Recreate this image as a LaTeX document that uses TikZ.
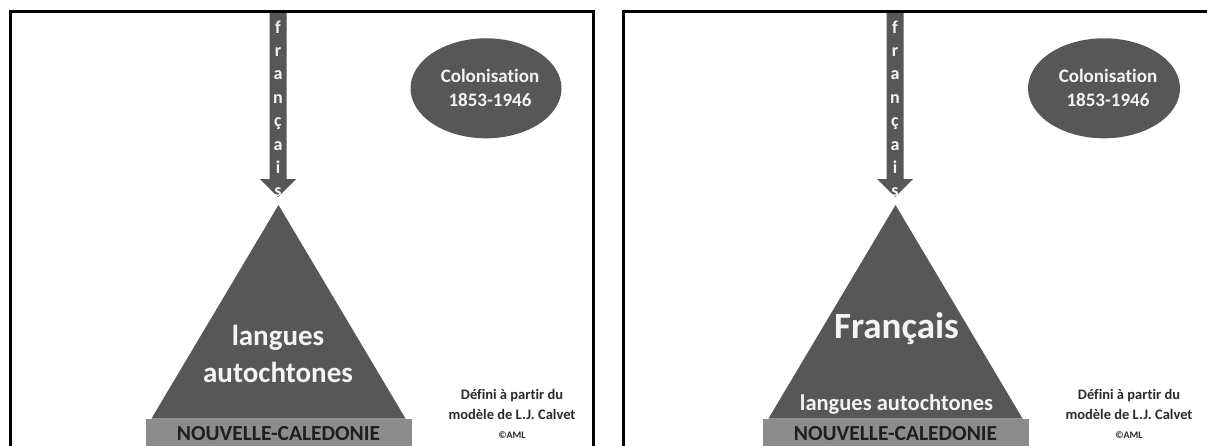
\documentclass[tikz,border=0pt]{standalone}
\usepackage{fontspec}
\setmainfont{Carlito}[Ligatures=NoCommon]
\usetikzlibrary{calc}
\definecolor{dkgray}{HTML}{575757}
\definecolor{bandgray}{HTML}{8C8C8C}
\definecolor{inkgray}{HTML}{1F1F1F}
\definecolor{notegray}{HTML}{2B2B2B}
\definecolor{paleink}{HTML}{F4F4F4}

\begin{document}
\begin{tikzpicture}[x=1pt, y=-1pt,
  frame/.style={black, line width=3pt},
  lettre/.style={text=paleink, font=\bfseries\fontsize{18}{18}\selectfont, anchor=base, inner sep=0pt},
  bubble/.style={text=paleink, font=\bfseries\fontsize{19}{23.4}\selectfont, align=center},
  tritext/.style={text=paleink, font=\bfseries\fontsize{29}{29}\selectfont, inner sep=0pt},
  band/.style={text=inkgray, font=\bfseries\fontsize{21.5}{21.5}\selectfont, inner sep=0pt},
  note/.style={text=notegray, font=\bfseries\fontsize{14.5}{19.5}\selectfont, align=center}]

\useasboundingbox (0,0) rectangle (1207,445);
\clip (0,0) rectangle (1207,445);
\fill[white] (0,0) rectangle (1207,445);

% ---------- Left panel ----------
% Arrow "français"
\coordinate (topL) at (278,11);
\coordinate (tipL) at (278,197);
\fill[dkgray] ($(topL)+(-8.5,0)$) -- ($(tipL)+(-8.5,-18)$) -- ($(tipL)+(-18,-18)$)
  -- (tipL) -- ($(tipL)+(18,-18)$) -- ($(tipL)+(8.5,-18)$) -- ($(topL)+(8.5,0)$) -- cycle;
\foreach \ch [count=\i from 0] in {f,r,a,n,ç,a,i,s}
  \node[lettre] (chL\i) at (278,33+23.4*\i) {\ch};

% Colonisation
\fill[dkgray] (486,88.3) ellipse (75.5 and 50);
\node[bubble] (colL) at (490,88) {Colonisation\\1853-1946};

% Pyramid
\coordinate (apexL) at (278.5,205);
\fill[dkgray] (apexL) -- (151.5,418.5) -- (405.5,418.5) -- cycle;
\node[tritext] (lgL) at (278,338) {langues};
\node[tritext] (auL) at (278,372.7) {autochtones};

% Base band
\fill[bandgray] (146,419) rectangle (411.5,460);
\node[band] (ncL) at (278.5,433.5) {NOUVELLE-CALEDONIE};

% Source
\node[note] (srcL) at (512,414)
  {Défini à partir du\\modèle de L.J. Calvet\\{\fontsize{10}{12}\selectfont ©AML}};

% Frame
\draw[frame] (10.3,460) -- (10.3,11) -- (593.7,11) -- (593.7,460);

% ---------- Right panel ----------
\begin{scope}[xshift=617pt]
\coordinate (topR) at (278,11);
\coordinate (tipR) at (278,197);
\fill[dkgray] ($(topR)+(-8.5,0)$) -- ($(tipR)+(-8.5,-18)$) -- ($(tipR)+(-18,-18)$)
  -- (tipR) -- ($(tipR)+(18,-18)$) -- ($(tipR)+(8.5,-18)$) -- ($(topR)+(8.5,0)$) -- cycle;
\foreach \ch [count=\i from 0] in {f,r,a,n,ç,a,i,s}
  \node[lettre] (chR\i) at (278,33+23.4*\i) {\ch};

\fill[dkgray] (487,88.3) ellipse (76 and 50);
\node[bubble] (colR) at (491,88) {Colonisation\\1853-1946};

\coordinate (apexR) at (278.5,205);
\fill[dkgray] (apexR) -- (151.5,418.5) -- (405.5,418.5) -- cycle;
\node[tritext, font=\bfseries\fontsize{37}{37}\selectfont, anchor=base] (frR) at (279.5,338.3) {Français};
\node[tritext, font=\bfseries\fontsize{22.5}{22.5}\selectfont] (lgR) at (279.5,405) {langues autochtones};

\fill[bandgray] (146,419) rectangle (411.5,460);
\node[band] (ncR) at (278.5,433.5) {NOUVELLE-CALEDONIE};

\node[note] (srcR) at (512,414)
  {Défini à partir du\\modèle de L.J. Calvet\\{\fontsize{10}{12}\selectfont ©AML}};
\end{scope}

\draw[frame] (623,460) -- (623,11) -- (1215,11) -- (1215,460);

\end{tikzpicture}
\end{document}
